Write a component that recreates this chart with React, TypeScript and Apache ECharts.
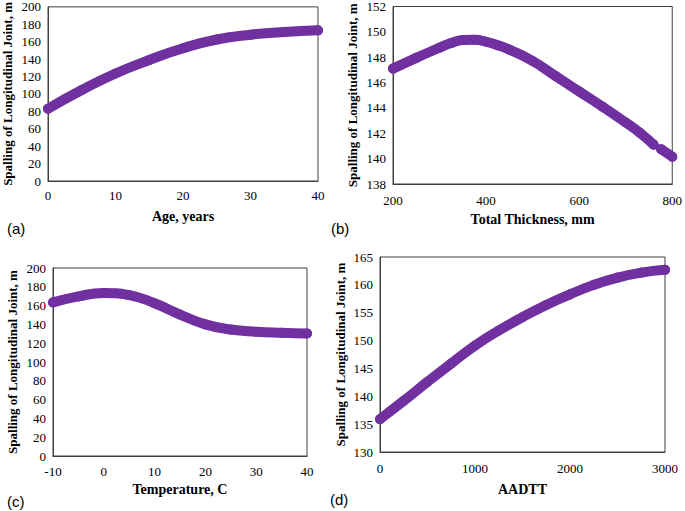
import React, { useEffect, useRef } from "react";
import * as echarts from "echarts";

// (a) Age
const ageX = [0, 5, 10, 15, 20, 25, 30, 35, 40];
const ageY = [83, 104.5, 123.5, 139, 152.5, 162.5, 168, 171.2, 173];

// (b) Total thickness (null = small gap in the markers)
const thickX = [200, 250, 300, 325, 350, 375, 400, 425, 450, 500, 550, 600, 650, 700, 730, 760, 768, 776, 800];
const thickY = [147.1, 147.95, 148.75, 149.12, 149.35, 149.38, 149.22, 148.95, 148.6, 147.7, 146.5, 145.3, 144.1, 142.85, 142.05, 141.1, null, 140.75, 140.15];

// (c) Temperature
const tempX = [-10, -5, 0, 5, 10, 15, 20, 25, 30, 35, 40];
const tempY = [163.4, 169.8, 173.4, 171.2, 162.5, 150.5, 140, 134.5, 132.2, 131.1, 130.4];

// (d) AADTT
const aadttX = [0, 250, 500, 750, 1000, 1250, 1500, 1750, 2000, 2250, 2500, 2750, 3000];
const aadttY = [135.9, 139.2, 142.6, 145.9, 149.1, 151.8, 154.2, 156.4, 158.3, 160, 161.3, 162.2, 162.7];

const yTitle = "Spalling of Longitudinal Joint, m";
const xTitles = ["Age, years", "Total Thickness, mm", "Temperature, C", "AADTT"];
const panelTags = ["(a)", "(b)", "(c)", "(d)"];

const PURPLE = "#7030A0";
const SERIF = "Liberation Serif";

export default function App() {
  const ref = useRef<HTMLDivElement>(null);
  useEffect(() => {
    if (!ref.current) return;
    const chart = echarts.init(ref.current, undefined, { renderer: "svg" });

    const grids = [
      { left: 47, top: 5, width: 271, height: 176 },
      { left: 393, top: 5, width: 282, height: 179 },
      { left: 53, top: 268, width: 254, height: 188 },
      { left: 380, top: 257, width: 285, height: 195 },
    ];
    const xRanges = [
      { min: 0, max: 40, interval: 10 },
      { min: 200, max: 800, interval: 200 },
      { min: -10, max: 40, interval: 10 },
      { min: 0, max: 3000, interval: 1000 },
    ];
    const yRanges = [
      { min: 0, max: 200, interval: 20 },
      { min: 138, max: 152, interval: 2 },
      { min: 0, max: 200, interval: 20 },
      { min: 130, max: 165, interval: 5 },
    ];
    const xNameGaps = [28, 28, 26, 30];
    const xLabelMargins = [8, 10, 9, 10];
    const yNameGaps = [34, 34, 34, 33];

    const datasets = [
      [ageX, ageY],
      [thickX, thickY],
      [tempX, tempY],
      [aadttX, aadttY],
    ];

    const axisLine = { show: true, onZero: false, lineStyle: { color: "#404040", width: 1 } };

    const option: any = {
      animation: false,
      grid: grids.map((g) => ({
        ...g,
        show: true,
        borderColor: "#404040",
        borderWidth: 1,
        backgroundColor: "transparent",
      })),
      xAxis: xRanges.map((r, i) => ({
        type: "value",
        gridIndex: i,
        ...r,
        name: xTitles[i],
        nameLocation: "middle",
        nameGap: xNameGaps[i],
        nameTextStyle: { fontFamily: SERIF, fontWeight: "bold", fontSize: 14, color: "#000" },
        axisLine,
        axisTick: { show: false },
        splitLine: { show: false },
        axisLabel: {
          fontFamily: SERIF,
          fontSize: 13,
          color: "#000",
          margin: xLabelMargins[i],
          formatter: (v: number) => String(v),
        },
      })),
      yAxis: yRanges.map((r, i) => ({
        type: "value",
        gridIndex: i,
        ...r,
        name: yTitle,
        nameLocation: "middle",
        nameGap: yNameGaps[i],
        nameRotate: 90,
        nameTextStyle: { fontFamily: SERIF, fontWeight: "bold", fontSize: 13, color: "#000" },
        axisLine,
        axisTick: { show: false },
        splitLine: { show: false },
        axisLabel: {
          fontFamily: SERIF,
          fontSize: 13,
          color: "#000",
          margin: 7,
          formatter: (v: number) => String(v),
        },
      })),
      series: datasets.map(([xs, ys], i) => ({
        type: "line",
        xAxisIndex: i,
        yAxisIndex: i,
        smooth: 0.5,
        connectNulls: false,
        showSymbol: true,
        symbol: "circle",
        symbolSize: 10,
        itemStyle: { color: PURPLE },
        lineStyle: { color: PURPLE, width: 10, cap: "round", join: "round" },
        data: (xs as number[]).map((x, k) => [x, ys[k] === null ? "-" : ys[k]]),
      })),
      graphic: [
        { x: 7, y: 221, tag: panelTags[0] },
        { x: 331, y: 221, tag: panelTags[1] },
        { x: 7, y: 494, tag: panelTags[2] },
        { x: 330, y: 492, tag: panelTags[3] },
      ].map((p) => ({
        type: "text",
        x: p.x,
        y: p.y,
        style: {
          text: p.tag,
          fontFamily: "Liberation Sans",
          fontSize: 15,
          fill: "#000",
        },
      })),
    };

    chart.setOption(option);
    return () => chart.dispose();
  }, []);

  return (
    <div
      ref={ref}
      style={{ position: "fixed", left: 0, top: 0, width: 685, height: 511, background: "#fff" }}
    />
  );
}
